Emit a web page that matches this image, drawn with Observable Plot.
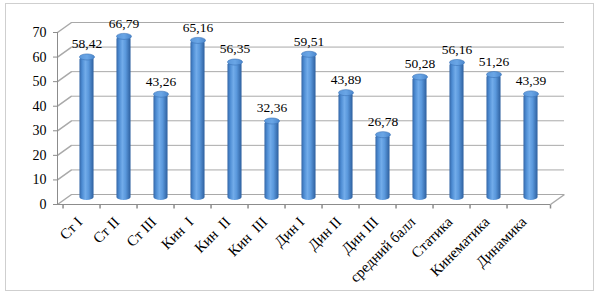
<!DOCTYPE html>
<html><head><meta charset="utf-8">
<script src="https://cdn.jsdelivr.net/npm/d3@7"></script>
<script src="https://cdn.jsdelivr.net/npm/@observablehq/plot@0.6"></script>
<style>
body{margin:0;background:#fff;}
#wrap{position:relative;width:600px;height:297px;overflow:hidden;}
#border{position:absolute;left:5px;top:3px;width:589px;height:288px;border:1px solid #cfcfcf;box-sizing:border-box;}
#wrap svg{position:absolute;left:0;top:0;}
</style></head><body>
<div id="wrap"><div id="border"></div></div>
<script>
const categories = ["Ст I","Ст II","Ст III","Кин  I","Кин  II","Кин  III","Дин I","Дин II","Дин III","средний балл","Статика","Кинематика","Динамика"];
const values = [58.42, 66.79, 43.26, 65.16, 56.35, 32.36, 59.51, 43.89, 26.78, 50.28, 56.16, 51.26, 43.39];
const yTicks = [0, 10, 20, 30, 40, 50, 60, 70];

const data = categories.map((c, i) => ({cat: c, v: values[i]}));

const W = 600, H = 297, ML = 57, MR = 50, MT = 32, MB = 93;
const bw = (W - ML - MR) / categories.length;
const DX = 14, DY = -10;      // depth of the 3D wall
const BX = 5, BY = -4;        // bar offset into depth
const BAR_W = 15;
const font = "'Liberation Serif', 'Times New Roman', serif";

const slant = {draw(ctx) { ctx.moveTo(0, 0); ctx.lineTo(DX, DY); }};
const vtick = {draw(ctx) { ctx.moveTo(0, 0); ctx.lineTo(0, 4); }};
function ellipse(rx, ry) {
  const k = 0.5523;
  return {draw(ctx) {
    ctx.moveTo(-rx, 0);
    ctx.bezierCurveTo(-rx, -ry * k, -rx * k, -ry, 0, -ry);
    ctx.bezierCurveTo(rx * k, -ry, rx, -ry * k, rx, 0);
    ctx.bezierCurveTo(rx, ry * k, rx * k, ry, 0, ry);
    ctx.bezierCurveTo(-rx * k, ry, -rx, ry * k, -rx, 0);
    ctx.closePath();
  }};
}

const chart = Plot.plot({
  width: W, height: H,
  marginLeft: ML, marginRight: MR, marginTop: MT, marginBottom: MB,
  style: {fontFamily: font, background: "transparent", color: "#000"},
  x: {domain: categories, padding: 0},
  y: {domain: [0, 70]},
  marks: [
    // back wall gridlines
    Plot.ruleY(yTicks, {y: d => d, dx: DX, dy: DY, stroke: "#a9a9a9", strokeWidth: 1}),
    // left wall slants
    Plot.dot(yTicks, {y: d => d, frameAnchor: "left", symbol: slant, stroke: "#a9a9a9", fill: "none"}),
    // floor right edge
    Plot.dot([0], {y: d => d, frameAnchor: "right", symbol: slant, stroke: "#a9a9a9", fill: "none"}),
    // floor front line (x axis)
    Plot.ruleY([0], {stroke: "#8c8c8c"}),
    // x boundary ticks
    Plot.dot(categories, {x: d => d, y: () => 0, dx: -bw / 2, symbol: vtick, stroke: "#8c8c8c", fill: "none"}),
    Plot.dot([0], {y: d => d, frameAnchor: "right", symbol: vtick, stroke: "#8c8c8c", fill: "none"}),
    Plot.frame({anchor: "left", stroke: "#8c8c8c"}),
    Plot.axisY({ticks: yTicks, tickSize: 4, tickPadding: 7, fontSize: 14, label: null, stroke: "#8c8c8c"}),
    Plot.axisX({tickSize: 0, tickRotate: -45, tickPadding: 15, fontSize: 15, label: null, dx: -2}),
    // bars (cylinders)
    Plot.barY(data, {x: "cat", y: "v", fill: "url(#cylGrad)", insetLeft: (bw - BAR_W) / 2, insetRight: (bw - BAR_W) / 2, rx: BAR_W / 2, ry: 3, dx: BX, dy: BY}),
    Plot.dot(data, {x: "cat", y: "v", symbol: ellipse(BAR_W / 2, 3), fill: "url(#cylTop)", stroke: "#3a72b6", strokeWidth: 0.6, dx: BX, dy: BY}),
    // value labels
    Plot.text(data, {x: "cat", y: "v", text: d => d.v.toFixed(2).replace(".", ","), dx: BX, dy: BY - 13, fontSize: 13.5, lineAnchor: "middle"})
  ]
});

const defs = d3.select(chart).insert("defs", ":first-child");
defs.html(`
<linearGradient id="cylGrad" x1="0" x2="1" y1="0" y2="0">
  <stop offset="0" stop-color="#3466a6"/>
  <stop offset="0.18" stop-color="#4c8bd2"/>
  <stop offset="0.42" stop-color="#72acea"/>
  <stop offset="0.65" stop-color="#5a98dc"/>
  <stop offset="1" stop-color="#2d5f9e"/>
</linearGradient>
<linearGradient id="cylTop" x1="0" x2="1" y1="0" y2="0">
  <stop offset="0" stop-color="#5b97da"/>
  <stop offset="0.5" stop-color="#6aa6e6"/>
  <stop offset="1" stop-color="#4a86cc"/>
</linearGradient>`);

document.getElementById("wrap").appendChild(chart);
</script>
</body></html>
